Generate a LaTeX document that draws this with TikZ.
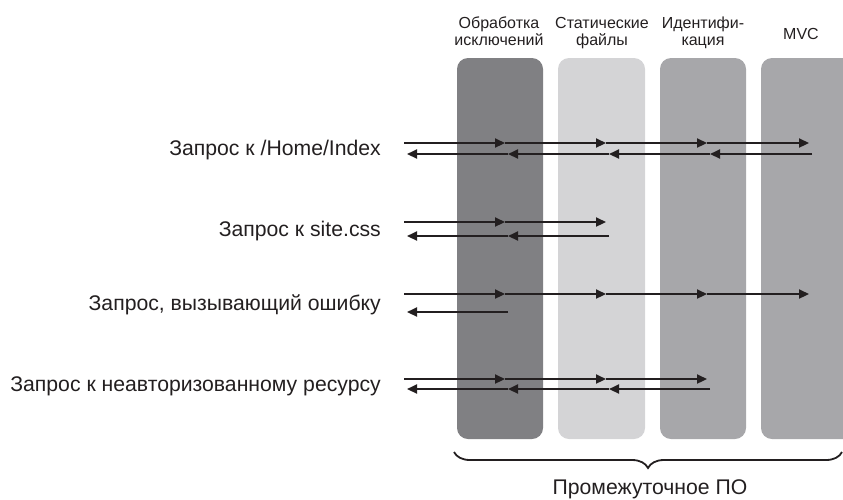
\documentclass[tikz,border=0pt]{standalone}
\usepackage{fontspec}
\setmainfont{Liberation Sans}
\usetikzlibrary{arrows.meta,decorations.pathreplacing}
\definecolor{ink}{HTML}{231F20}
\definecolor{cdark}{HTML}{808083}
\definecolor{clight}{HTML}{D4D4D6}
\definecolor{cmid}{HTML}{A7A7AA}
\begin{document}
\begin{tikzpicture}[x=1pt,y=-1pt,
  col/.style={rounded corners=11pt, draw=none},
  req/.style={draw=ink, line width=2.2pt, -{Triangle[length=10pt,width=9pt]}},
  lbl/.style={text=ink, font=\fontsize{21.2}{24}\selectfont, anchor=base east, inner sep=0pt},
  hdr/.style={text=ink, font=\fontsize{16}{17}\selectfont, align=center, inner sep=0pt, anchor=base}]
\useasboundingbox (0,0) rectangle (843,499);
% columns
\fill[col, cdark] (457,58) rectangle (543,439);
\fill[col, clight] (558,58) rectangle (645,439);
\fill[col, cmid] (660,58) rectangle (746,439);
\fill[col, cmid] (761,58) rectangle (855,439);
\fill[white] (843,0) rectangle (860,499);
% headers
\node[hdr] (h1) at (499,45) {Обработка\\исключений};
\node[hdr] (h2) at (602,45) {Статические\\файлы};
\node[hdr] (h3) at (703,45) {Идентифи-\\кация};
\node[hdr] (h4) at (801,39) {MVC};
% labels
\node[lbl] (l1) at (381,155) {Запрос к /Home/Index};
\node[lbl] (l2) at (381,236) {Запрос к site.css};
\node[lbl] (l3) at (381,310) {Запрос, вызывающий ошибку};
\node[lbl] (l4) at (381,391) {Запрос к неавторизованному ресурсу};
% coordinates
\foreach \n/\y in {a/143,b/222,c/294,d/379}{
  \coordinate (\n0) at (404,\y);
  \coordinate (\n1) at (505,\y);
  \coordinate (\n2) at (606,\y);
  \coordinate (\n3) at (707,\y);
  \coordinate (\n4) at (809,\y);
}
\foreach \n/\y in {A/154,B/236,C/312,D/389}{
  \coordinate (\n0) at (407,\y);
  \coordinate (\n1) at (508,\y);
  \coordinate (\n2) at (609,\y);
  \coordinate (\n3) at (710,\y);
  \coordinate (\n4) at (812,\y);
}
% row 1
\draw[req] (a0) -- (a1); \draw[req] (a1) -- (a2); \draw[req] (a2) -- (a3); \draw[req] (a3) -- (a4);
\draw[req] (A4) -- (A3); \draw[req] (A3) -- (A2); \draw[req] (A2) -- (A1); \draw[req] (A1) -- (A0);
% row 2
\draw[req] (b0) -- (b1); \draw[req] (b1) -- (b2);
\draw[req] (B2) -- (B1); \draw[req] (B1) -- (B0);
% row 3
\draw[req] (c0) -- (c1); \draw[req] (c1) -- (c2); \draw[req] (c2) -- (c3); \draw[req] (c3) -- (c4);
\draw[req] (C1) -- (C0);
% row 4
\draw[req] (d0) -- (d1); \draw[req] (d1) -- (d2); \draw[req] (d2) -- (d3);
\draw[req] (D3) -- (D2); \draw[req] (D2) -- (D1); \draw[req] (D1) -- (D0);
% brace
\coordinate (bl) at (454,452);
\coordinate (br) at (842,452);
\draw[ink, line width=1.8pt, decorate,
  decoration={brace, amplitude=16pt, mirror}] (bl) -- (br);
\node[text=ink, font=\fontsize{21.2}{24}\selectfont, inner sep=0pt, anchor=base] (mw) at (650,494) {Промежуточное ПО};
\end{tikzpicture}
\end{document}
